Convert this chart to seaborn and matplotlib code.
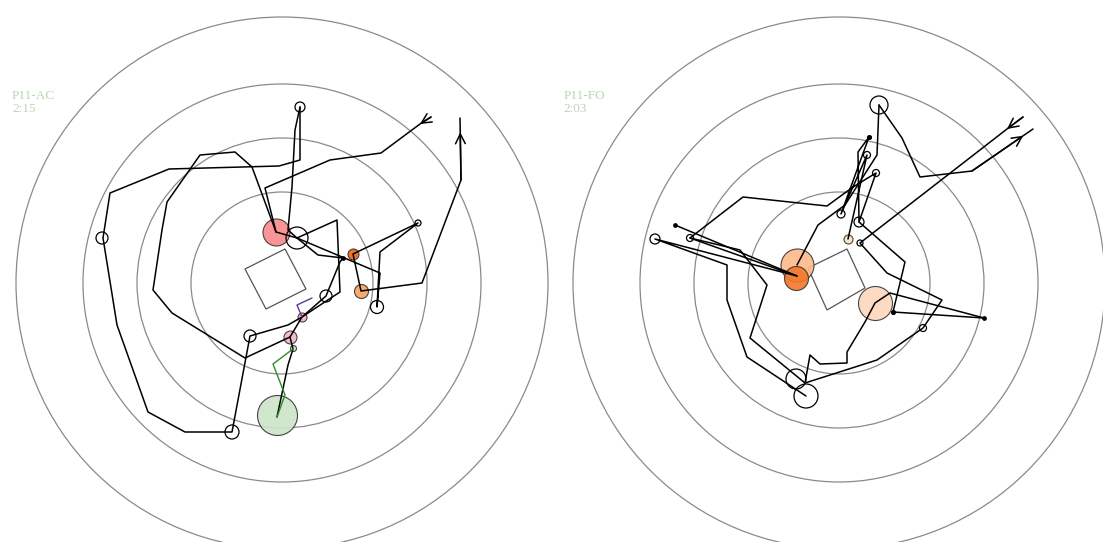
import numpy as np
import pandas as pd
import matplotlib.pyplot as plt
import seaborn as sns
from matplotlib.patches import Circle, Polygon

sns.set_style("white")

# field rings (same radii in both sessions)
ring_r = [91, 145, 199, 266]

# ---------------- session P11-AC ----------------
ac_label = "P11-AC\n2:15"
ac_center = (282, 283)
ac_room = [(245, 269), (285, 249), (306, 289), (266, 309)]

ac_start = [(431, 117), (420, 124), (381, 153), (330, 160), (265, 188), (276, 232),
            (297, 238), (337, 220), (340, 292), (302, 317)]
ac_outer = [(300, 107), (300, 160), (279, 166), (169, 169), (110, 193), (103, 238),
            (117, 325), (148, 412), (185, 432), (232, 432), (250, 336), (288, 325),
            (302, 317), (326, 296), (340, 262), (343, 258)]
ac_inner = [(302, 317), (290, 337), (245, 358), (172, 313), (153, 290), (162, 230),
            (167, 202), (200, 155), (235, 152), (252, 167), (276, 232)]
ac_top = [(300, 107), (295, 130), (292, 187), (288, 230), (297, 238), (318, 255), (343, 258)]
ac_east = [(297, 238), (380, 273), (377, 307), (380, 252), (418, 223), (353, 254),
           (361, 291), (422, 283), (461, 180), (460, 118)]
ac_south = [(277, 417), (288, 365), (293, 349), (290, 337)]
ac_green = [(277, 417), (285, 395), (273, 364), (293, 349)]
ac_purple = [(302, 317), (297, 305), (312, 298)]

ac_ev_x = [300, 102, 232, 250, 326, 377, 297, 418, 343, 276, 353, 361, 302, 290, 277, 293]
ac_ev_y = [107, 238, 432, 336, 296, 307, 238, 223, 258, 232, 254, 291, 317, 337, 415, 348]
ac_ev_r = [5, 6, 7, 6, 6, 6.5, 11, 3, 1.8, 13.5, 5.5, 7, 4.5, 6.5, 20, 3]
ac_ev_kind = ["open", "open", "open", "open", "open", "open", "open", "open", "dot",
              "red", "dark_orange", "light_orange", "pink", "pink", "green", "green"]

# ---------------- session P11-FO ----------------
fo_label = "P11-FO\n2:03"
fo_center = (839, 283)
fo_room = [(808, 268), (847, 249), (865, 288), (827, 310)]

fo_start = [(1023, 117), (1007, 129), (860, 243), (887, 273), (942, 300), (923, 328),
            (877, 360), (805, 383)]
fo_return = [(805, 383), (810, 355), (820, 364), (847, 363), (847, 352), (865, 322),
             (875, 303), (890, 293), (984, 318)]
fo_east = [(859, 222), (905, 262), (893, 312), (984, 318)]
fo_exit = [(879, 105), (902, 138), (920, 177), (972, 171), (1033, 129)]
fo_drop = [(879, 105), (877, 155), (845, 205), (818, 225), (797, 265)]
fo_zigzag = [(848, 239), (867, 155), (841, 214), (869, 137), (858, 152), (859, 222),
             (876, 173), (853, 187), (827, 206), (743, 197), (690, 238), (797, 276),
             (655, 239), (727, 265), (727, 300), (747, 357), (806, 396)]
fo_west = [(675, 225), (797, 276)]
fo_loop = [(690, 238), (740, 250), (767, 285), (750, 338), (805, 383)]

fo_ev_x = [879, 869, 867, 876, 841, 859, 860, 655, 690, 675, 893, 984, 923, 796, 806,
           797, 796, 875, 848]
fo_ev_y = [105, 137, 155, 173, 214, 222, 243, 239, 238, 225, 312, 318, 328, 379, 396,
           265, 278, 303, 239]
fo_ev_r = [9, 2, 3.5, 3.5, 4, 5, 3, 5, 3.5, 1.8, 2, 1.8, 3.5, 10, 12,
           16.5, 12, 17, 4.5]
fo_ev_kind = ["open", "dot", "open", "open", "open", "open", "open", "open", "open", "dot",
              "dot", "dot", "open", "open", "open",
              "light_orange2", "dark_orange2", "peach", "peach_small"]

face = {
    "open": "none", "dot": "black",
    "red": "#f98a8c", "dark_orange": "#ee640c", "light_orange": "#f5a263",
    "pink": "#f4b4c2", "green": "#cbe5c8",
    "light_orange2": "#fdba8a", "dark_orange2": "#f4772a", "peach": "#fdd8bd",
    "peach_small": "#fbe1bd",
}


def to_frame(paths):
    rows = []
    for name, pts in paths.items():
        for x, y in pts:
            rows.append({"path": name, "x": x, "y": y})
    return pd.DataFrame(rows)


def draw_panel(ax, center, room, black_paths, colored, ev_x, ev_y, ev_r, ev_kind,
               start_paths, end_paths, label, xlim):
    for r in ring_r:
        ax.add_patch(Circle(center, r, fill=False, ec="#8a8a8a", lw=0.9, zorder=1))
    ax.add_patch(Polygon(room, closed=True, fill=False, ec="#555555", lw=0.9, zorder=1))

    # colored event circles under the tracks, open ones on top
    for x, y, r, k in zip(ev_x, ev_y, ev_r, ev_kind):
        s = (2 * r * 0.72) ** 2
        if k == "open":
            ax.scatter(x, y, s=s, facecolors="none", edgecolors="black", linewidths=0.9, zorder=4)
        elif k == "dot":
            ax.scatter(x, y, s=s, facecolors="black", edgecolors="black", linewidths=0.8, zorder=4)
        else:
            ax.scatter(x, y, s=s, facecolors=face[k], edgecolors="#333333", linewidths=0.8,
                       alpha=0.9, zorder=2)

    sns.lineplot(data=to_frame(black_paths), x="x", y="y", units="path", estimator=None,
                 sort=False, color="black", lw=1.1, ax=ax, legend=False, zorder=3)
    for pts, col in colored:
        sns.lineplot(data=to_frame({"p": pts}), x="x", y="y", units="path", estimator=None,
                     sort=False, color=col, lw=1.0, ax=ax, legend=False, zorder=3)

    arrow = dict(arrowstyle="->,head_length=0.7,head_width=0.35", color="black", lw=1.1,
                 shrinkA=0, shrinkB=0)
    for pts in start_paths:
        ax.annotate("", xy=pts[1], xytext=pts[0], arrowprops=arrow, zorder=3)
    for pts, frac in end_paths:
        (x0, y0), (x1, y1) = pts[-2], pts[-1]
        tip = (x0 + frac * (x1 - x0), y0 + frac * (y1 - y0))
        ax.annotate("", xy=tip, xytext=(x0, y0), arrowprops=arrow, zorder=3)

    ax.text(xlim[0] + 12, 90, label, ha="left", va="top", fontsize=9.5, color="#b7d8b1",
            family="Liberation Serif", linespacing=1.1)
    ax.set_xlim(*xlim)
    ax.set_ylim(542, 0)
    ax.axis("off")


fig = plt.figure(figsize=(11.03, 5.42), dpi=100)
ax_l = fig.add_axes([0, 0, 0.5, 1])
ax_r = fig.add_axes([0.5, 0, 0.5, 1])

draw_panel(ax_l, ac_center, ac_room,
           {"start": ac_start, "outer": ac_outer, "inner": ac_inner, "top": ac_top,
            "east": ac_east, "south": ac_south},
           [(ac_green, "#2e8b2e"), (ac_purple, "#5b3a9e")],
           ac_ev_x, ac_ev_y, ac_ev_r, ac_ev_kind,
           [ac_start], [(ac_east, 0.77)], ac_label, (0, 551.5))

draw_panel(ax_r, fo_center, fo_room,
           {"start": fo_start, "return": fo_return, "east": fo_east, "exit": fo_exit,
            "drop": fo_drop, "zigzag": fo_zigzag, "west": fo_west, "loop": fo_loop},
           [],
           fo_ev_x, fo_ev_y, fo_ev_r, fo_ev_kind,
           [fo_start], [(fo_exit, 0.84)], fo_label, (551.5, 1103))

fig.savefig("out.png", dpi=100)
